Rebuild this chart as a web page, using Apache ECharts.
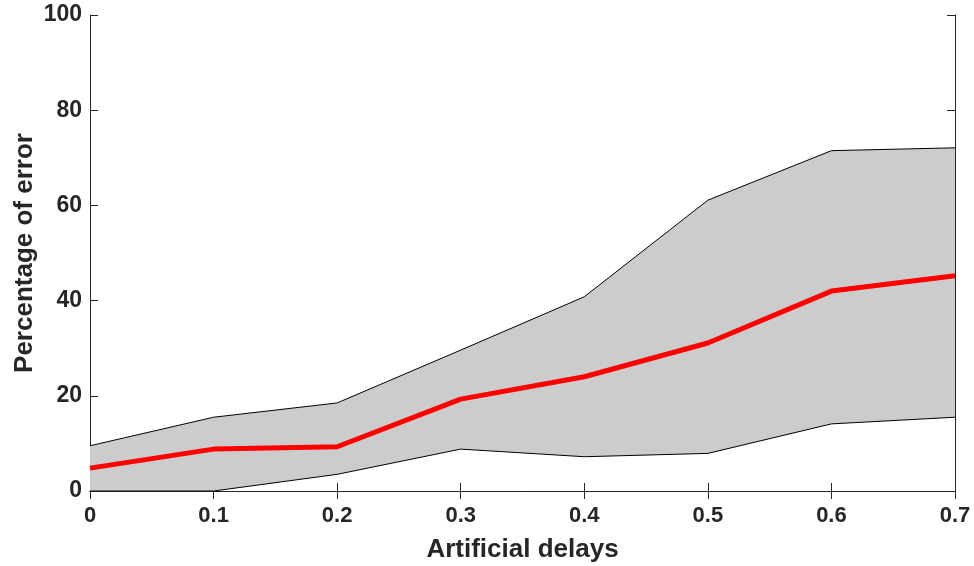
<!DOCTYPE html>
<html>
<head>
<meta charset="utf-8">
<script src="https://cdn.jsdelivr.net/npm/echarts@6/dist/echarts.min.js"></script>
<style>html,body{margin:0;padding:0;background:#fff}#c{width:974px;height:566px}</style>
</head>
<body>
<div id="c"></div>
<script>
var delays = ['0', '0.1', '0.2', '0.3', '0.4', '0.5', '0.6', '0.7'];
var meanError = [4.8, 8.8, 9.3, 19.3, 24.0, 31.1, 42.0, 45.2];
var upperError = [9.5, 15.5, 18.5, 29.6, 40.8, 61.1, 71.5, 72.1];
var lowerError = [0, 0, 3.5, 8.8, 7.2, 7.9, 14.1, 15.5];

var bandWidth = upperError.map(function (u, i) { return +(u - lowerError[i]).toFixed(2); });

var font = 'Liberation Sans, Arial, sans-serif';
var axisColor = '#262626';
var tickStyle = { show: true, inside: true, length: 8, lineStyle: { color: axisColor, width: 1 } };
var chart = echarts.init(document.getElementById('c'));
chart.setOption({
  animation: false,
  grid: { left: 90, right: 19, top: 15, bottom: 75, containLabel: false, outerBoundsMode: 'none' },
  xAxis: [{
    type: 'category', data: delays, boundaryGap: false, position: 'bottom',
    name: 'Artificial delays', nameLocation: 'middle', nameGap: 46,
    nameTextStyle: { fontFamily: font, fontWeight: 'bold', fontSize: 26, color: axisColor },
    axisLine: { show: true, onZero: false, lineStyle: { color: axisColor, width: 1 } },
    axisTick: tickStyle,
    axisLabel: { fontFamily: font, fontWeight: 'bold', fontSize: 22, color: axisColor, margin: 14, hideOverlap: false },
    splitLine: { show: false }
  }, {
    type: 'category', data: delays, boundaryGap: false, position: 'top',
    axisLine: { show: true, lineStyle: { color: axisColor, width: 1 } },
    axisTick: tickStyle,
    axisLabel: { show: false }, splitLine: { show: false }
  }],
  yAxis: [{
    type: 'value', min: 0, max: 100, interval: 20, position: 'left',
    name: 'Percentage of error', nameLocation: 'middle', nameGap: 52, nameRotate: 90,
    nameMoveOverlap: false,
    nameTextStyle: { fontFamily: font, fontWeight: 'bold', fontSize: 26, color: axisColor },
    axisLine: { show: true, lineStyle: { color: axisColor, width: 1 } },
    axisTick: tickStyle,
    axisLabel: { fontFamily: font, fontWeight: 'bold', fontSize: 23, color: axisColor, margin: 8 },
    splitLine: { show: false }
  }, {
    type: 'value', min: 0, max: 100, interval: 20, position: 'right',
    axisLine: { show: true, lineStyle: { color: axisColor, width: 1 } },
    axisTick: tickStyle,
    axisLabel: { show: false }, splitLine: { show: false }
  }],
  series: [{
    type: 'line', data: lowerError, stack: 'band', symbol: 'none', z: 2,
    lineStyle: { color: '#000', width: 1 }
  }, {
    type: 'line', data: bandWidth, stack: 'band', symbol: 'none', z: 2,
    lineStyle: { color: '#000', width: 1 },
    areaStyle: { color: '#cccccc', opacity: 1 }
  }, {
    type: 'line', data: meanError, symbol: 'none', z: 5,
    lineStyle: { color: '#ff0000', width: 5 }
  }]
});
</script>
</body>
</html>
